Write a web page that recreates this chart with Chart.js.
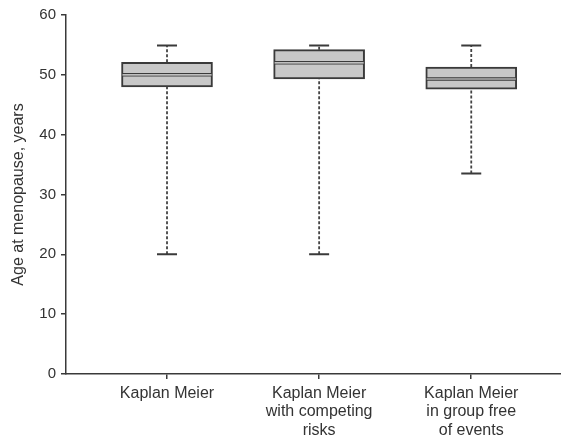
<!DOCTYPE html>
<html>
<head>
<meta charset="utf-8">
<script src="https://cdn.jsdelivr.net/npm/chart.js@4/dist/chart.umd.min.js"></script>
<style>
  html, body { margin: 0; padding: 0; background: #fff; }
  #wrap { width: 561px; height: 437px; }
</style>
</head>
<body>
<div id="wrap"><canvas id="chart"></canvas></div>
<script>
// Données
const categories = [
  ['Kaplan Meier'],
  ['Kaplan Meier', 'with competing', 'risks'],
  ['Kaplan Meier', 'in group free', 'of events']
];
const positions = [1, 2, 3];
const whiskerLow = [20, 20, 33.5];
const q1 = [48, 49.3, 47.6];
const median = [50, 52, 49.3];
const q3 = [52.1, 54.2, 51.3];
const whiskerHigh = [54.9, 54.9, 54.9];
const yTicks = [0, 10, 20, 30, 40, 50, 60];

const textColor = '#333';
const lineColor = '#3a3a3a';
const fontFamily = 'Liberation Sans, Arial, sans-serif';

// moustaches (avant les boîtes) + médiane (après)
const boxExtras = {
  id: 'boxExtras',
  beforeDatasetsDraw(chart) {
    const { ctx, scales: { x, y } } = chart;
    ctx.save();
    positions.forEach((p, i) => {
      const px = x.getPixelForValue(p);
      ctx.strokeStyle = '#444';
      ctx.lineWidth = 1.8;
      ctx.setLineDash([3, 2]);
      ctx.beginPath();
      ctx.moveTo(px, y.getPixelForValue(whiskerLow[i]));
      ctx.lineTo(px, y.getPixelForValue(q1[i]));
      ctx.moveTo(px, y.getPixelForValue(q3[i]));
      ctx.lineTo(px, y.getPixelForValue(whiskerHigh[i]));
      ctx.stroke();
      // petites barres au bout
      ctx.setLineDash([]);
      ctx.lineWidth = 2;
      ctx.strokeStyle = lineColor;
      ctx.beginPath();
      [whiskerLow[i], whiskerHigh[i]].forEach(v => {
        const py = y.getPixelForValue(v);
        ctx.moveTo(px - 10, py);
        ctx.lineTo(px + 10, py);
      });
      ctx.stroke();
    });
    ctx.restore();
  },
  afterDatasetsDraw(chart) {
    const { ctx, scales: { x, y } } = chart;
    const bar = chart.getDatasetMeta(0).data;
    ctx.save();
    positions.forEach((p, i) => {
      const half = bar[i].width / 2;
      const px = x.getPixelForValue(p);
      const py = y.getPixelForValue(median[i]);
      ctx.strokeStyle = lineColor;
      ctx.lineWidth = 3.5;
      ctx.beginPath();
      ctx.moveTo(px - half + 1, py);
      ctx.lineTo(px + half - 1, py);
      ctx.stroke();
      ctx.strokeStyle = '#ececec';
      ctx.lineWidth = 1.2;
      ctx.beginPath();
      ctx.moveTo(px - half + 1, py);
      ctx.lineTo(px + half - 1, py);
      ctx.stroke();
    });
    ctx.restore();
  }
};

new Chart(document.getElementById('chart'), {
  type: 'bar',
  data: {
    datasets: [{
      data: positions.map((p, i) => ({ x: p, y: [q1[i], q3[i]] })),
      backgroundColor: '#c8c8c8',
      borderColor: lineColor,
      borderWidth: 2,
      borderSkipped: false,
      barThickness: 91
    }]
  },
  options: {
    responsive: true,
    maintainAspectRatio: false,
    animation: false,
    layout: { padding: { top: 15, right: 0, left: 0, bottom: 0 } },
    plugins: {
      legend: { display: false },
      tooltip: { enabled: false }
    },
    scales: {
      x: {
        type: 'linear',
        offset: false,
        min: 0.336,
        max: 3.59,
        afterBuildTicks: scale => { scale.ticks = positions.map(v => ({ value: v })); },
        afterFit: scale => { scale.height = 63; },
        grid: { offset: false, drawOnChartArea: false, drawTicks: true, tickLength: 5, color: lineColor, lineWidth: 1.5 },
        border: { display: true, color: lineColor, width: 1.5 },
        ticks: {
          color: textColor,
          padding: 5,
          maxRotation: 0,
          autoSkip: false,
          font: { family: fontFamily, size: 16, lineHeight: 1.16 },
          callback: (v) => categories[positions.indexOf(v)] || ''
        }
      },
      y: {
        min: 0,
        max: 60,
        afterBuildTicks: scale => { scale.ticks = yTicks.map(v => ({ value: v })); },
        afterFit: scale => { scale.width = 66; },
        grid: { drawOnChartArea: false, drawTicks: true, tickLength: 5, color: lineColor, lineWidth: 1.5 },
        border: { display: true, color: lineColor, width: 1.5 },
        ticks: {
          color: textColor,
          padding: 5,
          font: { family: fontFamily, size: 15 }
        },
        title: {
          display: true,
          text: 'Age at menopause, years',
          color: textColor,
          padding: { top: 9, bottom: 0 },
          font: { family: fontFamily, size: 16 }
        }
      }
    }
  },
  plugins: [boxExtras]
});
</script>
</body>
</html>
